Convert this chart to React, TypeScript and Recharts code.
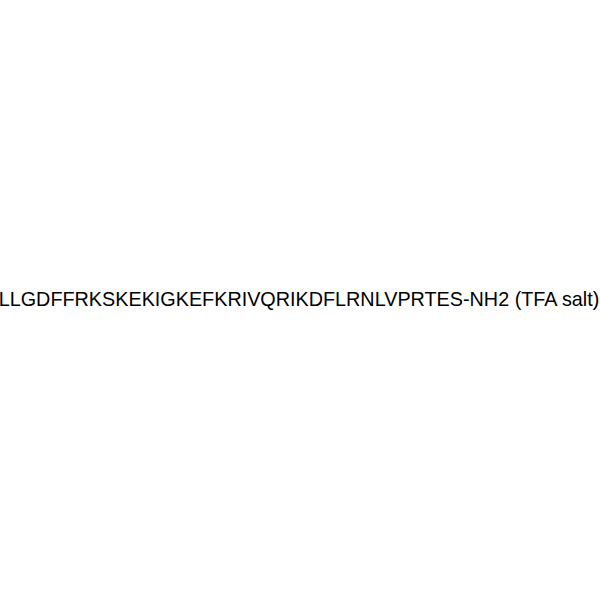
import { Surface, Text } from 'recharts';

// the picture holds only the compound name, no axes or marks
const titleLines: string[] = ['LLGDFFRKSKEKIGKEFKRIVQRIKDFLRNLVPRTES-NH2 (TFA salt)'];

const WIDTH = 600;
const HEIGHT = 600;

export default function App() {
  return (
    <div style={{ position: 'absolute', left: 0, top: 0, width: WIDTH, height: HEIGHT, background: '#fff' }}>
      <Surface width={WIDTH} height={HEIGHT}>
        {titleLines.map((line, i) => (
          <Text
            key={i}
            x={299}
            y={306 + i * 24}
            textAnchor="middle"
            fontFamily="'Liberation Sans', Arial, sans-serif"
            fontSize={19.8}
            fill="#000"
          >
            {line}
          </Text>
        ))}
      </Surface>
    </div>
  );
}
